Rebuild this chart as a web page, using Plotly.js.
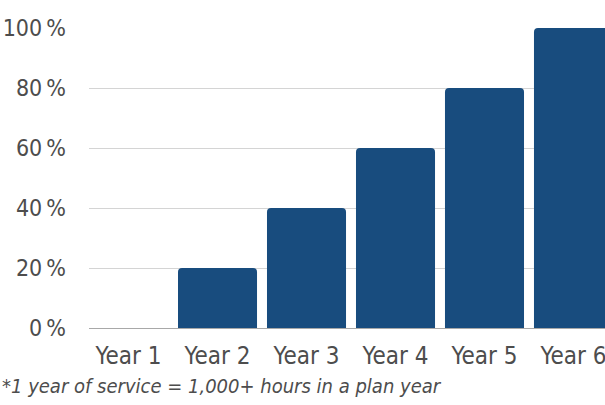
<!DOCTYPE html>
<html><head><meta charset="utf-8">
<script src="https://cdn.plot.ly/plotly-3.0.1.min.js"></script>
<style>html,body{margin:0;padding:0;background:#fff}#c{width:605px;height:405px}</style>
</head><body><div id="c"></div>
<script>
var categories = ["Year 1","Year 2","Year 3","Year 4","Year 5","Year 6"];
var vestedPct = [0, 20, 40, 60, 80, 100];
var yTicks = [0, 20, 40, 60, 80, 100];
var yTickLabels = ["0\u2009%","20\u2009%","40\u2009%","60\u2009%","80\u2009%","100\u2009%"];
var footnote = "*1 year of service = 1,000+ hours in a plan year";

var FONT = "'DejaVu Sans Condensed', 'Roboto', sans-serif";
var TXT = "#4d4d4d";

Plotly.newPlot("c", [{
  type: "bar",
  x: categories,
  y: vestedPct,
  marker: {color: "#184c7e"},
  hoverinfo: "skip"
}], {
  width: 605, height: 405,
  margin: {l: 89, r: 0, t: 28, b: 77},
  paper_bgcolor: "#fff", plot_bgcolor: "#fff",
  bargap: 0.112,
  barcornerradius: 4,
  showlegend: false,
  font: {family: FONT, color: TXT, size: 24},
  xaxis: {
    type: "category",
    range: [-0.444, 5.354],
    showgrid: false, zeroline: false, showline: false,
    ticks: "", ticklabelstandoff: 11,
    tickfont: {family: FONT, size: 24, color: TXT}
  },
  yaxis: {
    range: [0, 100],
    tickvals: yTicks, ticktext: yTickLabels,
    showgrid: true, gridcolor: "#d4d4d4", gridwidth: 1,
    zeroline: true, zerolinecolor: "#a8a8a8", zerolinewidth: 1,
    showline: false, ticks: "", ticklabelstandoff: 22,
    tickfont: {family: FONT, size: 23, color: TXT}
  },
  annotations: [{
    text: footnote, showarrow: false,
    xref: "paper", yref: "paper",
    x: -89/516, y: -0.192, xanchor: "left", yanchor: "middle",
    font: {family: FONT, size: 20, color: TXT, style: "italic"}
  }]
}, {staticPlot: true, displayModeBar: false});
</script></body></html>
